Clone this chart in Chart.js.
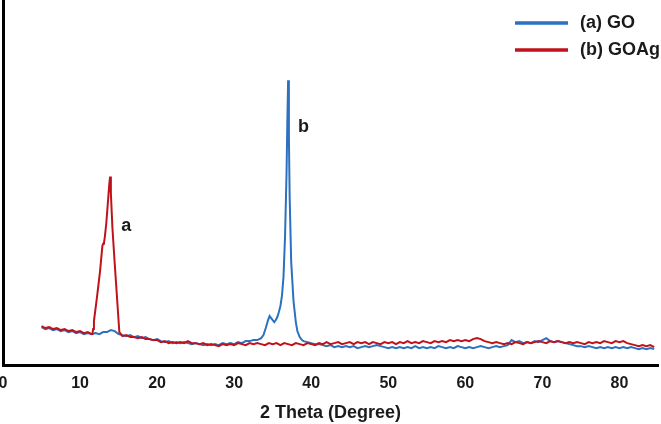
<!DOCTYPE html>
<html>
<head>
<meta charset="utf-8">
<script src="https://cdn.jsdelivr.net/npm/chart.js@4.4.0/dist/chart.umd.min.js"></script>
<style>
  body { margin: 0; background: #fff; }
</style>
</head>
<body>
<canvas id="xrd" width="661" height="424"></canvas>
<script>
// 2 theta grid for the baseline (degrees)
var angles = [
  5, 5.5, 6, 6.5, 7, 7.5, 8, 8.5, 9, 9.5,
  10, 10.5, 11, 11.5, 12, 12.5, 13, 13.5, 14, 14.5,
  15, 15.5, 16, 16.5, 17, 17.5, 18, 18.5, 19, 19.5,
  20, 20.5, 21, 21.5, 22, 22.5, 23, 23.5, 24, 24.5,
  25, 25.5, 26, 26.5, 27, 27.5, 28, 28.5, 29, 29.5,
  30, 30.5, 31, 31.5, 32, 32.5, 33, 33.5, 34, 34.5,
  35, 35.5, 36, 36.5, 37, 37.5, 38, 38.5, 39, 39.5,
  40, 40.5, 41, 41.5, 42, 42.5, 43, 43.5, 44, 44.5,
  45, 45.5, 46, 46.5, 47, 47.5, 48, 48.5, 49, 49.5,
  50, 50.5, 51, 51.5, 52, 52.5, 53, 53.5, 54, 54.5,
  55, 55.5, 56, 56.5, 57, 57.5, 58, 58.5, 59, 59.5,
  60, 60.5, 61, 61.5, 62, 62.5, 63, 63.5, 64, 64.5,
  65, 65.5, 66, 66.5, 67, 67.5, 68, 68.5, 69, 69.5,
  70, 70.5, 71, 71.5, 72, 72.5, 73, 73.5, 74, 74.5,
  75, 75.5, 76, 76.5, 77, 77.5, 78, 78.5, 79, 79.5,
  80, 80.5, 81, 81.5, 82, 82.5, 83, 83.5, 84, 84.5
];

// (a) GO - intensity (a.u.)
var goBase = [
  35, 33, 34, 32, 33, 31, 32, 30, 31, 29,
  30, 28, 29, 28, 29, 28, 30, 30, 32, 31,
  28, 27, 26, 27, 25, 26, 24, 25, 23, 22,
  23, 21, 20, 21, 19, 20, 19, 20, 19, 18,
  19, 18, 17, 18, 17, 18, 17, 19, 18, 19,
  18, 20, 19, 21, 21, 22, 22, 24, 33, 44,
  42, 45, 56, 80, 50, 38, 28, 24, 21, 20,
  19, 18, 18, 17, 16, 17, 15, 16, 15, 16,
  15, 16, 14, 15, 16, 15, 16, 17, 16, 15,
  14, 15, 14, 15, 14, 15, 14, 16, 14, 15,
  14, 15, 14, 16, 15, 14, 15, 14, 16, 15,
  14, 15, 14, 15, 16, 15, 14, 15, 16, 15,
  16, 17, 22, 20, 21, 19, 20, 19, 21, 20,
  22, 24, 21, 20, 21, 20, 19, 18, 17, 16,
  16, 15, 16, 15, 14, 15, 14, 15, 14, 15,
  14, 15, 14, 15, 14, 13, 14, 13, 14, 13
];
var goPeakX = [33.8, 34.1, 34.4, 34.6, 34.8, 35.0, 35.2, 35.4, 35.6, 35.8, 36.0, 36.2, 36.4, 36.6, 36.8, 36.9, 37.0, 37.1, 37.2, 37.4, 37.7, 38.0, 38.2, 38.5, 38.8];
var goPeakY = [27, 34, 42, 46, 44, 42, 40, 42, 45, 50, 56, 66, 85, 125, 190, 240, 281, 225, 165, 100, 61, 40, 31, 25, 22];

// (b) GOAg - intensity (a.u.)
var goagBase = [
  36, 34, 35, 33, 34, 32, 33, 31, 32, 30,
  31, 29, 30, 28, 29, 29, 29, 29, 29, 28,
  27, 26, 27, 25, 25, 24, 25, 23, 23, 22,
  22, 20, 21, 19, 20, 19, 20, 19, 21, 19,
  19, 18, 19, 17, 18, 17, 16, 18, 17, 18,
  17, 19, 18, 17, 19, 18, 19, 18, 17, 19,
  18, 19, 17, 19, 18, 17, 19, 18, 17, 19,
  18, 17, 19, 18, 20, 18, 19, 20, 18, 19,
  20, 18, 20, 19, 20, 18, 20, 19, 18, 20,
  19, 20, 18, 20, 19, 21, 19, 20, 19, 21,
  20, 19, 21, 20, 21, 20, 22, 21, 22, 21,
  22, 21, 23, 24, 23, 21, 20, 19, 20, 19,
  18, 19, 18, 20, 19, 18, 20, 19, 20, 21,
  20, 19, 21, 20, 21, 20, 19, 20, 19, 20,
  19, 18, 20, 19, 20, 19, 21, 20, 19, 21,
  20, 21, 19, 18, 17, 16, 17, 16, 17, 15
];
var goagPeakX = [11.6, 11.7, 11.8, 12.0, 12.2, 12.4, 12.6, 12.8, 12.9, 13.0, 13.1, 13.2, 13.4, 13.6, 13.8, 13.9, 14.0, 14.2, 14.5, 14.8, 15.0, 15.1];
var goagPeakY = [28, 33, 41, 53, 65, 78, 91, 108, 116, 118, 119, 124, 138, 158, 178, 185, 168, 134, 98, 64, 41, 30];

var xTicks = [0, 10, 20, 30, 40, 50, 60, 70, 80];

// baseline points outside the peak window + detailed peak points
function buildSeries(baseY, peakX, peakY) {
    var lo = peakX[0], hi = peakX[peakX.length - 1];
    var pts = [];
    angles.forEach(function (a, i) {
        if (a < lo || a > hi) pts.push({ x: a, y: baseY[i] });
    });
    peakX.forEach(function (a, i) {
        pts.push({ x: a, y: peakY[i] });
    });
    pts.sort(function (p, q) { return p.x - q.x; });
    return pts;
}

var blue = '#2a71bf';
var red = '#c0121b';
var font = '"Liberation Sans", Arial, sans-serif';

// legend in the top right corner and the peak letters
var decorations = {
    id: 'decorations',
    afterDraw: function (chart) {
        var c = chart.ctx;
        var xs = chart.scales.x, ys = chart.scales.y;
        c.save();
        c.lineWidth = 3.5;
        c.strokeStyle = blue;
        c.beginPath(); c.moveTo(515, 23); c.lineTo(568, 23); c.stroke();
        c.strokeStyle = red;
        c.beginPath(); c.moveTo(515, 50); c.lineTo(568, 50); c.stroke();
        c.fillStyle = '#1a1a1a';
        c.font = 'bold 18px ' + font;
        c.textBaseline = 'middle';
        c.textAlign = 'left';
        c.fillText('(a) GO', 580, 23);
        c.fillText('(b) GOAg', 580, 50);
        c.textAlign = 'center';
        c.fillText('a', xs.getPixelForValue(16.0), ys.getPixelForValue(136));
        c.fillText('b', xs.getPixelForValue(39.0), ys.getPixelForValue(234));
        c.restore();
    }
};

var ctx = document.getElementById('xrd').getContext('2d');
var xrd = new Chart(ctx, {
    type: 'line',
    data: {
        datasets: [{
            label: '(b) GOAg',
            data: buildSeries(goagBase, goagPeakX, goagPeakY),
            borderColor: red,
            borderWidth: 2,
            pointRadius: 0,
            tension: 0
        }, {
            label: '(a) GO',
            data: buildSeries(goBase, goPeakX, goPeakY),
            borderColor: blue,
            borderWidth: 2,
            pointRadius: 0,
            tension: 0
        }]
    },
    options: {
        responsive: false,
        animation: false,
        layout: { padding: { left: 3, right: 3, top: 0, bottom: 0 } },
        plugins: {
            legend: { display: false },
            tooltip: { enabled: false }
        },
        scales: {
            x: {
                type: 'linear',
                min: 0,
                max: 85,
                afterBuildTicks: function (axis) {
                    axis.ticks = xTicks.map(function (v) { return { value: v }; });
                },
                afterFit: function (axis) {
                    // keep the plot flush with the left edge like the original
                    axis.paddingLeft = 0;
                    axis.paddingRight = 0;
                },
                grid: { display: false, drawTicks: false },
                border: { display: true, color: '#000', width: 3 },
                ticks: {
                    color: '#1a1a1a',
                    padding: 9,
                    font: { family: font, size: 16, weight: 'bold' }
                },
                title: {
                    display: true,
                    text: '2 Theta (Degree)',
                    color: '#1a1a1a',
                    padding: { top: 0, bottom: 0 },
                    font: { family: font, size: 18, weight: 'bold' }
                }
            },
            y: {
                min: -3,
                max: 361,
                grid: { display: false, drawTicks: false },
                border: { display: true, color: '#000', width: 3 },
                ticks: { display: false }
            }
        }
    },
    plugins: [decorations]
});
</script>
</body>
</html>
